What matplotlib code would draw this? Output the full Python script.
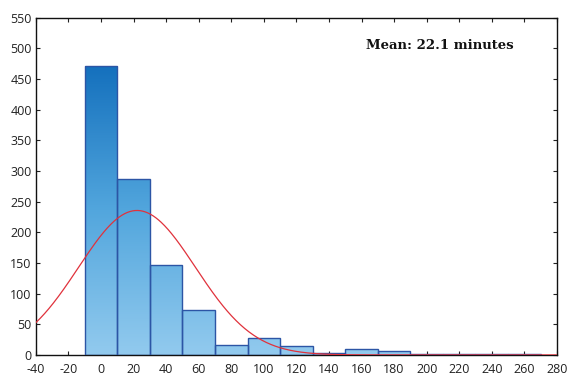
import numpy as np
import matplotlib
matplotlib.use("Agg")
import matplotlib.pyplot as plt
from matplotlib.colors import LinearSegmentedColormap

plt.rcParams["axes.unicode_minus"] = False

# histogram bins (minutes) and counts
bin_edges = [-10, 10, 30, 50, 70, 90, 110, 130, 150, 170, 190, 210, 230, 250, 270]
counts = [472, 287, 146, 73, 17, 27, 15, 3, 10, 6, 1, 1, 1, 1]

# fitted normal curve parameters
mean_min = 22.1
sd_min = 35.9

x_ticks = list(range(-40, 281, 20))
y_ticks = list(range(0, 551, 50))

fig = plt.figure(figsize=(5.7, 3.76), dpi=100)
ax = fig.add_axes([0.063, 0.056, 0.914, 0.897])

cmap = LinearSegmentedColormap.from_list("bar", ["#92caee", "#52a6dd", "#1470bd"])
ymax = max(counts)
grad = np.linspace(0, 1, 256).reshape(-1, 1)

for left, right, c in zip(bin_edges[:-1], bin_edges[1:], counts):
    bar = ax.bar(left, c, width=right - left, align="edge",
                 facecolor="none", edgecolor="#2c55a5", linewidth=1.0, zorder=3)[0]
    im = ax.imshow(grad, cmap=cmap, aspect="auto", origin="lower",
                   extent=[left, right, 0, ymax], vmin=0, vmax=1, zorder=2)
    im.set_clip_path(bar)

n_total = sum(counts)
width = bin_edges[1] - bin_edges[0]
xs = np.linspace(-40, 280, 600)
ys = n_total * width / (sd_min * np.sqrt(2 * np.pi)) * np.exp(-0.5 * ((xs - mean_min) / sd_min) ** 2)
ax.plot(xs, ys, color="#e0323c", linewidth=0.9, zorder=4)

ax.text(163, 504, "Mean: 22.1 minutes", fontsize=9.5, fontweight="bold",
        family="DejaVu Serif", color="#111111", va="center", ha="left")

ax.set_xlim(-40, 280)
ax.set_ylim(0, 550)
ax.set_xticks(x_ticks)
ax.set_yticks(y_ticks)
ax.tick_params(direction="in", length=3, width=0.8, top=True, right=True,
               labelsize=9, colors="#222222")
ax.tick_params(axis="x", pad=6)
ax.tick_params(axis="y", pad=3)
for lab in ax.get_xticklabels() + ax.get_yticklabels():
    lab.set_family("Open Sans")
for s in ax.spines.values():
    s.set_linewidth(1.0)
    s.set_color("#111111")

fig.savefig("out.png", dpi=100, facecolor="white")
